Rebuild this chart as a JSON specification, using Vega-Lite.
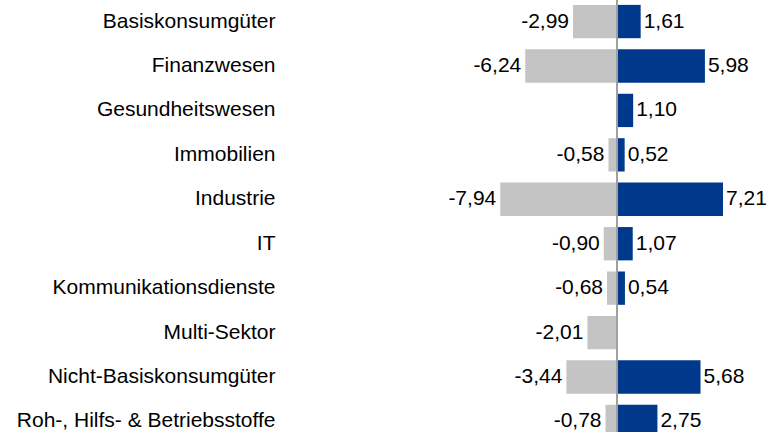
{
  "$schema": "https://vega.github.io/schema/vega-lite/v6.json",
  "width": 488,
  "height": 443,
  "autosize": {"type": "none"},
  "padding": {"left": 285, "top": 0, "right": 0, "bottom": 0},
  "background": "white",
  "config": {
    "view": {"stroke": null},
    "locale": {"number": {"decimal": ",", "thousands": ".", "grouping": [3], "currency": ["", " €"], "minus": "-"}},
    "font": "Liberation Sans"
  },
  "data": {
    "values": [
      {"sector": "Basiskonsumgüter", "series": "neg", "value": -2.99},
      {"sector": "Basiskonsumgüter", "series": "pos", "value": 1.61},
      {"sector": "Finanzwesen", "series": "neg", "value": -6.24},
      {"sector": "Finanzwesen", "series": "pos", "value": 5.98},
      {"sector": "Gesundheitswesen", "series": "pos", "value": 1.10},
      {"sector": "Immobilien", "series": "neg", "value": -0.58},
      {"sector": "Immobilien", "series": "pos", "value": 0.52},
      {"sector": "Industrie", "series": "neg", "value": -7.94},
      {"sector": "Industrie", "series": "pos", "value": 7.21},
      {"sector": "IT", "series": "neg", "value": -0.90},
      {"sector": "IT", "series": "pos", "value": 1.07},
      {"sector": "Kommunikationsdienste", "series": "neg", "value": -0.68},
      {"sector": "Kommunikationsdienste", "series": "pos", "value": 0.54},
      {"sector": "Multi-Sektor", "series": "neg", "value": -2.01},
      {"sector": "Nicht-Basiskonsumgüter", "series": "neg", "value": -3.44},
      {"sector": "Nicht-Basiskonsumgüter", "series": "pos", "value": 5.68},
      {"sector": "Roh-, Hilfs- & Betriebsstoffe", "series": "neg", "value": -0.78},
      {"sector": "Roh-, Hilfs- & Betriebsstoffe", "series": "pos", "value": 2.75}
    ]
  },
  "encoding": {
    "y": {
      "field": "sector",
      "type": "nominal",
      "sort": null,
      "scale": {"paddingInner": 0.25, "paddingOuter": 0.11},
      "axis": {
        "title": null,
        "domain": false,
        "ticks": false,
        "labelPadding": 10,
        "labelFontSize": 21,
        "labelColor": "#000000",
        "labelFont": "Liberation Sans",
        "labelLimit": 400
      }
    },
    "x": {
      "field": "value",
      "type": "quantitative",
      "scale": {"domain": [-22.58, 10.61], "nice": false, "zero": false},
      "axis": null
    }
  },
  "layer": [
    {
      "mark": {"type": "bar"},
      "encoding": {
        "color": {
          "field": "series",
          "type": "nominal",
          "scale": {"domain": ["neg", "pos"], "range": ["#C4C4C4", "#00388C"]},
          "legend": null
        }
      }
    },
    {
      "transform": [{"filter": "datum.series === 'neg'"}],
      "mark": {"type": "text", "align": "right", "baseline": "middle", "dx": -4, "fontSize": 21, "color": "#000000"},
      "encoding": {"text": {"field": "value", "type": "quantitative", "format": ".2f"}}
    },
    {
      "transform": [{"filter": "datum.series === 'pos'"}],
      "mark": {"type": "text", "align": "left", "baseline": "middle", "dx": 3, "fontSize": 21, "color": "#000000"},
      "encoding": {"text": {"field": "value", "type": "quantitative", "format": ".2f"}}
    },
    {
      "mark": {"type": "rule", "color": "#A0A0A0", "strokeWidth": 1.5},
      "encoding": {"x": {"datum": 0}, "y": null}
    }
  ]
}
